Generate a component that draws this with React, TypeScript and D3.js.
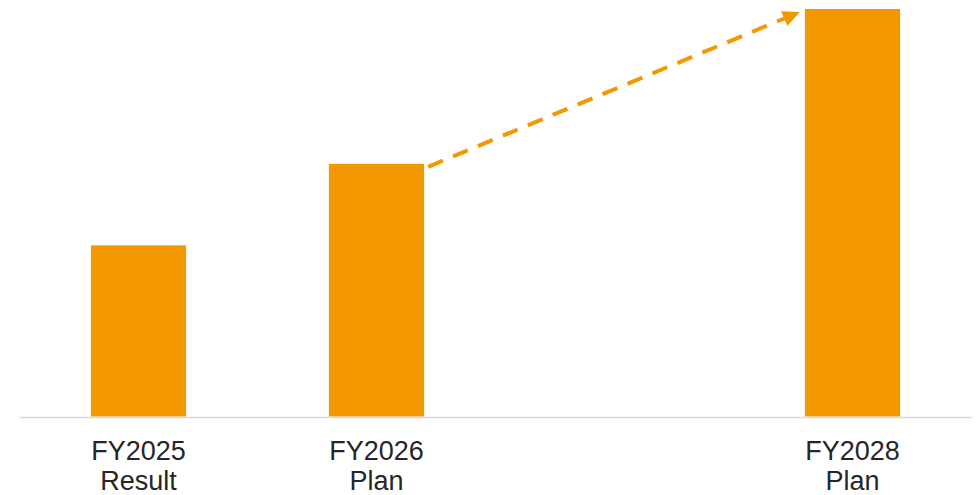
import React from "react";
import * as d3 from "d3";

const categories = ["FY2025", "FY2026", "FY2027", "FY2028"];
const labelLine1 = ["FY2025", "FY2026", "", "FY2028"];
const labelLine2 = ["Result", "Plan", "", "Plan"];
const values: (number | null)[] = [4.2, 6.2, null, 10.0];

const W = 977;
const H = 495;
const BAR = "#f39800";

export default function App() {
  const x = d3
    .scaleBand<string>()
    .domain(categories)
    .range([19.5, 971.5])
    .paddingInner(0.6)
    .paddingOuter(0.3);
  const y = d3.scaleLinear().domain([0, 10]).range([416.5, 9]);
  const baseY = 417.5;

  const x1 = (x("FY2026") as number) + x.bandwidth() + 4;
  const y1 = y(values[1] as number) + 3;
  const x2 = (x("FY2028") as number) - 5;
  const y2 = y(values[3] as number) + 3;
  const ang = Math.atan2(y2 - y1, x2 - x1);
  const headLen = 17;
  const headHalf = 8;
  const bx = x2 - headLen * Math.cos(ang);
  const by = y2 - headLen * Math.sin(ang);
  const px = -Math.sin(ang) * headHalf;
  const py = Math.cos(ang) * headHalf;
  const lineEndX = x2 - (headLen - 2) * Math.cos(ang);
  const lineEndY = y2 - (headLen - 2) * Math.sin(ang);

  return (
    <svg
      width={W}
      height={H}
      style={{ position: "absolute", left: 0, top: 0 }}
      fontFamily="'Liberation Sans', Arial, sans-serif"
    >
      <rect width={W} height={H} fill="#fff" />
      {categories.map((c, i) =>
        values[i] == null ? null : (
          <rect
            key={c}
            x={x(c)}
            y={y(values[i] as number)}
            width={x.bandwidth()}
            height={y(0) - y(values[i] as number)}
            fill={BAR}
          />
        )
      )}
      <line x1={19.5} x2={971.5} y1={baseY} y2={baseY} stroke="#d9d9d9" strokeWidth={1.5} />
      {categories.map((c, i) => (
        <text
          key={c}
          x={(x(c) as number) + x.bandwidth() / 2}
          textAnchor="middle"
          fontSize={27}
          fill="#262626"
        >
          <tspan x={(x(c) as number) + x.bandwidth() / 2} y={459.5}>
            {labelLine1[i]}
          </tspan>
          <tspan x={(x(c) as number) + x.bandwidth() / 2} y={490}>
            {labelLine2[i]}
          </tspan>
        </text>
      ))}
      <line
        x1={x1}
        y1={y1}
        x2={lineEndX}
        y2={lineEndY}
        stroke={BAR}
        strokeWidth={4}
        strokeDasharray="16 11"
      />
      <polygon
        points={`${x2},${y2} ${bx + px},${by + py} ${bx - px},${by - py}`}
        fill={BAR}
      />
    </svg>
  );
}
